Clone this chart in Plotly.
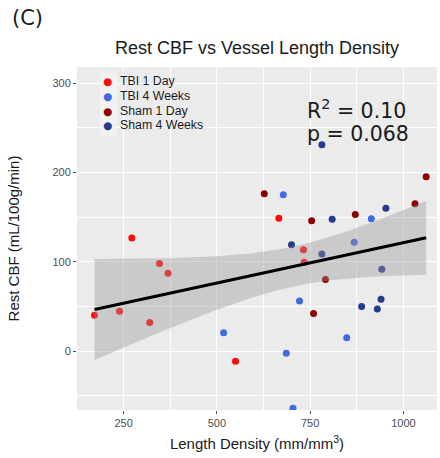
import numpy as np
import plotly.graph_objects as go

# Length density (mm/mm^3) and resting CBF (mL/100g/min) per animal, by group
tbi1_x = [172, 272, 346, 369, 239, 320, 550, 666, 732, 734]
tbi1_y = [40, 126.5, 98, 87, 44.5, 32, -11.5, 148.6, 113.4, 99.3]

tbi4_x = [518, 678, 914, 868, 721.5, 848, 686, 704]
tbi4_y = [20.5, 175, 148, 121.7, 56, 15, -2.6, -64]

sham1_x = [627, 1061, 1031, 754, 871, 791, 759]
sham1_y = [176, 195, 165, 146, 153, 80, 42]

sham4_x = [781.5, 953, 809, 700, 781.5, 942, 888, 940, 930]
sham4_y = [231, 160, 147.5, 119, 108.6, 91.5, 50, 58, 47]

group_names = ["TBI 1 Day", "TBI 4 Weeks", "Sham 1 Day", "Sham 4 Weeks"]
group_colors = ["#FF0A0A", "#4169E1", "#8B0000", "#233C8E"]

x_ticks = [250, 500, 750, 1000]
y_ticks = [0, 100, 200, 300]

r2_label = "0.10"
p_label = "0.068"

groups = [(tbi1_x, tbi1_y), (tbi4_x, tbi4_y), (sham1_x, sham1_y), (sham4_x, sham4_y)]

# Pooled ordinary least squares fit with 95% confidence band of the mean
all_x = np.concatenate([np.asarray(g[0], float) for g in groups])
all_y = np.concatenate([np.asarray(g[1], float) for g in groups])
n = all_x.size
slope, intercept = np.polyfit(all_x, all_y, 1)
resid = all_y - (slope * all_x + intercept)
s = np.sqrt(np.sum(resid ** 2) / (n - 2))
x_mean = all_x.mean()
sxx = np.sum((all_x - x_mean) ** 2)
df = n - 2
z = 1.959964
t_crit = z + (z ** 3 + z) / (4 * df) + (5 * z ** 5 + 16 * z ** 3 + 3 * z) / (96 * df ** 2)
grid_x = np.linspace(all_x.min(), all_x.max(), 80)
fit_y = slope * grid_x + intercept
half = t_crit * s * np.sqrt(1 / n + (grid_x - x_mean) ** 2 / sxx)
lower = fit_y - half
upper = fit_y + half

fig = go.Figure()

for (gx, gy), name, color in zip(groups, group_names, group_colors):
    fig.add_trace(go.Scatter(
        x=gx, y=gy, mode="markers", name=name, showlegend=False,
        marker=dict(color=color, size=7, line=dict(width=0)),
    ))

# confidence band drawn over the points, then the fitted line
fig.add_trace(go.Scatter(
    x=np.concatenate([grid_x, grid_x[::-1]]),
    y=np.concatenate([upper, lower[::-1]]),
    fill="toself", fillcolor="rgba(153,153,153,0.4)",
    line=dict(width=0), mode="lines", hoverinfo="skip", showlegend=False,
))
fig.add_trace(go.Scatter(
    x=grid_x, y=fit_y, mode="lines",
    line=dict(color="black", width=3.2), showlegend=False,
))

axis_font = dict(family="Liberation Sans, Arial, sans-serif", size=11, color="#4D4D4D")
title_font = dict(family="Liberation Sans, Arial, sans-serif", size=15, color="#1A1A1A")

annotations = [
    dict(text="Rest CBF vs Vessel Length Density", xref="paper", yref="paper",
         x=0.5, y=1.0, yshift=19, showarrow=False, xanchor="center", yanchor="middle",
         font=dict(family="Liberation Sans, Arial, sans-serif", size=18, color="#1A1A1A")),
    dict(text="(C)", xref="paper", yref="paper", x=0, xshift=-67, y=1.0, yshift=49,
         showarrow=False, xanchor="left", yanchor="middle",
         font=dict(family="DejaVu Sans, sans-serif", size=21, color="#1A1A1A")),
    dict(text=f"R<sup>2</sup> = {r2_label}", xref="paper", yref="paper",
         x=0.633, y=0.875, showarrow=False, xanchor="left", yanchor="middle",
         font=dict(family="DejaVu Sans, sans-serif", size=20.5, color="#1A1A1A")),
    dict(text=f"p = {p_label}", xref="paper", yref="paper",
         x=0.633, y=0.805, showarrow=False, xanchor="left", yanchor="middle",
         font=dict(family="DejaVu Sans, sans-serif", size=20.5, color="#1A1A1A")),
]

# legend: one row per group, a coloured dot key and the group name
legend_top = 0.9585
legend_step = 0.0429
for i, (name, color) in enumerate(zip(group_names, group_colors)):
    row_y = legend_top - i * legend_step
    annotations.append(dict(
        text="●", xref="paper", yref="paper", x=0.0861, y=row_y,
        showarrow=False, xanchor="center", yanchor="middle",
        font=dict(family="DejaVu Sans, sans-serif", size=10.5, color=color)))
    annotations.append(dict(
        text=name, xref="paper", yref="paper", x=0.114, y=row_y,
        showarrow=False, xanchor="left", yanchor="middle",
        font=dict(family="Liberation Sans, Arial, sans-serif", size=12.3, color="#1A1A1A")))

# light backing behind the legend keys
shapes = [dict(type="rect", xref="paper", yref="paper", x0=0.064, x1=0.111, y0=0.80, y1=0.982,
               fillcolor="#F2F2F2", line=dict(width=0), layer="above")]

fig.update_layout(
    width=440, height=458,
    margin=dict(l=77, r=3, t=67, b=48),
    paper_bgcolor="white",
    plot_bgcolor="#EBEBEB",
    font=dict(family="Liberation Sans, Arial, sans-serif", color="#1A1A1A"),
    showlegend=False,
    xaxis=dict(
        range=[125, 1090], tickvals=x_ticks, ticktext=[str(v) for v in x_ticks],
        showgrid=True, gridcolor="white", gridwidth=1.2, zeroline=False,
        ticks="outside", ticklen=3, tickcolor="#4D4D4D", tickwidth=1,
        tickfont=axis_font, showline=False,
        minor=dict(tickvals=[375, 625, 875], showgrid=True, gridcolor="white", gridwidth=0.6, ticks=""),
        title=dict(text="Length Density (mm/mm<sup>3</sup>)", font=title_font, standoff=10),
    ),
    yaxis=dict(
        range=[-66, 318], tickvals=y_ticks, ticktext=[str(v) for v in y_ticks],
        showgrid=True, gridcolor="white", gridwidth=1.2, zeroline=False,
        ticks="outside", ticklen=3, tickcolor="#4D4D4D", tickwidth=1,
        tickfont=axis_font, showline=False,
        minor=dict(tickvals=[-50, 50, 150, 250], showgrid=True, gridcolor="white", gridwidth=0.6, ticks=""),
        title=dict(text="Rest CBF (mL/100g/min)", font=title_font, standoff=29),
    ),
    shapes=shapes,
    annotations=annotations,
)

fig.write_html("out.html")
